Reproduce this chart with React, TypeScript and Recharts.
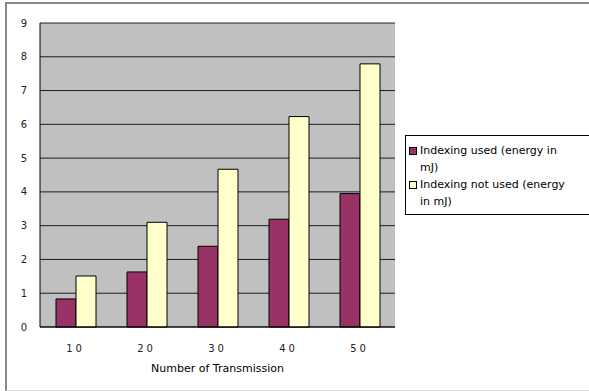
import React from 'react';
import { Bar, BarChart, CartesianGrid, XAxis, YAxis } from 'recharts';

const transmissions = ['10', '20', '30', '40', '50'];
const indexingUsed = [0.83, 1.63, 2.39, 3.19, 3.95];
const indexingNotUsed = [1.51, 3.1, 4.67, 6.23, 7.79];
const yTicks = [0, 1, 2, 3, 4, 5, 6, 7, 8, 9];

const seriesNames = ['Indexing used (energy in mJ)', 'Indexing not used (energy in mJ)'];
const seriesColors = ['#993366', '#ffffcc'];
const legendLines = [
    ['Indexing used (energy in', 'mJ)'],
    ['Indexing not used (energy', 'in mJ)'],
];

const font = '"DejaVu Sans", Tahoma, sans-serif';

const data = transmissions.map((t, i) => ({
    t,
    used: indexingUsed[i],
    notUsed: indexingNotUsed[i],
}));

function ChartLegend() {
    return (
        <div
            style={{
                position: 'absolute',
                left: 405,
                top: 135,
                width: 200,
                height: 80,
                border: '1px solid #000',
                background: '#fff',
                padding: '6px 0 0 3px',
                fontFamily: font,
                fontSize: 11,
                lineHeight: '17px',
                color: '#000',
                boxSizing: 'border-box',
            }}
        >
            {legendLines.map((lines, i) => (
                <div key={i} style={{ display: 'flex', alignItems: 'flex-start' }}>
                    <span
                        style={{
                            display: 'inline-block',
                            width: 6,
                            height: 6,
                            border: '1px solid #000',
                            background: seriesColors[i],
                            marginTop: 5,
                            marginRight: 3,
                            flexShrink: 0,
                        }}
                    />
                    <span title={seriesNames[i]}>
                        {lines[0]}
                        <br />
                        {lines[1]}
                    </span>
                </div>
            ))}
        </div>
    );
}

export default function App() {
    return (
        <div style={{ position: 'absolute', left: 0, top: 0, width: 589, height: 391, overflow: 'hidden', background: '#fff' }}>
            <div
                style={{
                    position: 'absolute',
                    left: 5,
                    top: 2,
                    width: 640,
                    height: 386,
                    borderLeft: '2px solid #888',
                    borderTop: '2px solid #888',
                    borderBottom: '1px solid #ddd',
                }}
            />
            <BarChart
                width={589}
                height={391}
                data={data}
                margin={{ top: 23, right: 194, left: 0, bottom: 0 }}
                barGap={0}
                barSize={20}
                style={{ position: 'absolute', left: 0, top: 0 }}
            >
                <CartesianGrid vertical={false} fill='#c0c0c0' stroke='#000' strokeOpacity={0.85} />
                <XAxis
                    dataKey='t'
                    height={64}
                    axisLine={{ stroke: '#000' }}
                    tickLine={false}
                    tickMargin={12}
                    tick={{ fontFamily: font, fontSize: 10, fill: '#222', letterSpacing: 3 }}
                    label={{
                        value: 'Number of Transmission',
                        position: 'insideBottom',
                        offset: 19,
                        style: { fontFamily: font, fontSize: 11, fill: '#000' },
                    }}
                />
                <YAxis
                    width={40}
                    domain={[0, 9]}
                    ticks={yTicks}
                    interval={0}
                    axisLine={{ stroke: '#000' }}
                    tickLine={false}
                    tickMargin={7}
                    tick={{ fontFamily: font, fontSize: 10, fill: '#222' }}
                />
                <Bar dataKey='used' name={seriesNames[0]} fill={seriesColors[0]} stroke='#000' strokeWidth={1} isAnimationActive={false} />
                <Bar dataKey='notUsed' name={seriesNames[1]} fill={seriesColors[1]} stroke='#000' strokeWidth={1} isAnimationActive={false} />
            </BarChart>
            <ChartLegend />
        </div>
    );
}
